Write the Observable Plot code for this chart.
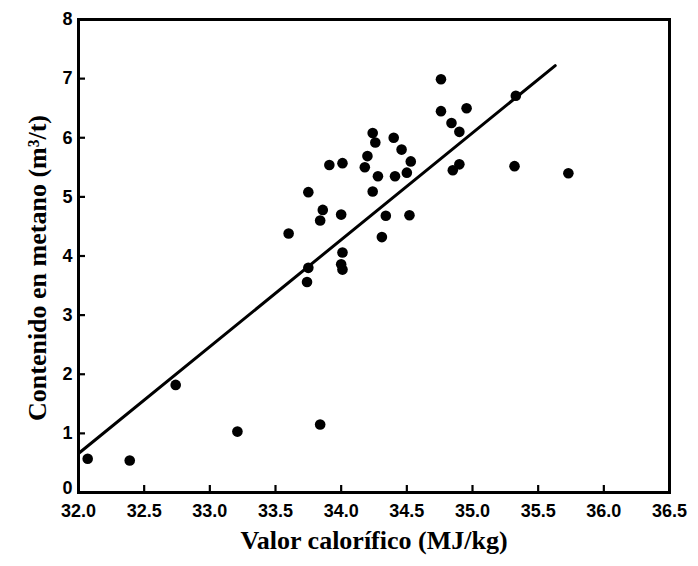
<!DOCTYPE html>
<html>
<head>
<meta charset="utf-8">
<script src="https://cdn.jsdelivr.net/npm/d3@7"></script>
<script src="https://cdn.jsdelivr.net/npm/@observablehq/plot@0.6"></script>
<style>
  html, body { margin: 0; padding: 0; background: #fff; }
</style>
</head>
<body>
<div id="chart"></div>
<script>
// Calorific value (MJ/kg) of each sample
const calorific = [
  32.07, 32.39, 32.74, 33.21, 33.84, 33.60, 33.74, 33.75, 33.75, 33.84,
  33.86, 33.91, 34.00, 34.01, 34.01, 34.00, 34.01, 34.18, 34.20, 34.24,
  34.26, 34.24, 34.28, 34.31, 34.34, 34.40, 34.41, 34.46, 34.50, 34.53,
  34.52, 34.76, 34.76, 34.84, 34.85, 34.90, 34.90, 34.955, 35.32, 35.33,
  35.73
];
// Methane content (m3/t) of each sample
const methane = [
  0.57, 0.54, 1.82, 1.03, 1.15, 4.38, 3.56, 3.80, 5.08, 4.60,
  4.78, 5.54, 3.86, 3.77, 4.06, 4.70, 5.57, 5.50, 5.69, 6.08,
  5.92, 5.09, 5.35, 4.32, 4.68, 6.00, 5.35, 5.80, 5.41, 5.60,
  4.69, 6.99, 6.45, 6.25, 5.45, 6.10, 5.55, 6.50, 5.52, 6.71,
  5.40
];
// Fitted line end points
const fitX = [32.0, 35.63];
const fitY = [0.66, 7.22];
// Tick values
const xTicks = [32.0, 32.5, 33.0, 33.5, 34.0, 34.5, 35.0, 35.5, 36.0, 36.5];
const yTicks = [0, 1, 2, 3, 4, 5, 6, 7, 8];
const xTitle = "Valor calorífico (MJ/kg)";
const yTitle = "Contenido en metano (m³/t)";

const points = calorific.map((c, i) => ({c, m: methane[i]}));
const fit = fitX.map((x, i) => ({x, y: fitY[i]}));

const W = 698, H = 566;
const mL = 78, mR = 29, mT = 19, mB = 74;
const plotW = W - mL - mR, plotH = H - mT - mB;

const sans = "'Liberation Sans', Arial, sans-serif";
const serif = "'Liberation Serif', 'Times New Roman', serif";
const tickFont = {fontSize: 18, fontWeight: "bold", fontFamily: sans};

const chart = Plot.plot({
  width: W,
  height: H,
  marginLeft: mL,
  marginRight: mR,
  marginTop: mT,
  marginBottom: mB,
  style: {background: "#fff", color: "#000"},
  x: {domain: [32, 36.5]},
  y: {domain: [0, 8]},
  marks: [
    Plot.axisX(xTicks, {
      tickSize: 0, tickPadding: 12, tickFormat: d3.format(".1f"), label: null, ...tickFont
    }),
    Plot.axisY(yTicks.slice(1), {
      tickSize: 0, tickPadding: 6, tickFormat: d3.format("d"), label: null, ...tickFont
    }),
    Plot.axisY(yTicks.slice(0, 1), {
      tickSize: 0, tickPadding: 6, dy: -4, tickFormat: d3.format("d"), label: null, ...tickFont
    }),
    Plot.tickX(xTicks.slice(1, -1), {x: d => d, insetTop: plotH - 7, strokeWidth: 2.2, stroke: "#000"}),
    Plot.tickY(yTicks.slice(1, -1), {y: d => d, insetRight: plotW - 7, strokeWidth: 2.2, stroke: "#000"}),
    Plot.frame({stroke: "#000", strokeWidth: 3}),
    Plot.line(fit, {x: "x", y: "y", stroke: "#000", strokeWidth: 3}),
    Plot.dot(points, {x: "c", y: "m", r: 5.3, fill: "#000", stroke: "none"}),
    Plot.text([xTitle], {
      frameAnchor: "bottom", dy: 56, text: d => d, textAnchor: "middle",
      fontSize: 26, fontWeight: "bold", fontFamily: serif, fill: "#000"
    }),
    Plot.text([yTitle], {
      frameAnchor: "left", dx: -41, dy: 12, rotate: -90, text: d => d, textAnchor: "middle",
      fontSize: 26, fontWeight: "bold", fontFamily: serif, fill: "#000"
    })
  ]
});
document.getElementById("chart").appendChild(chart);
</script>
</body>
</html>
